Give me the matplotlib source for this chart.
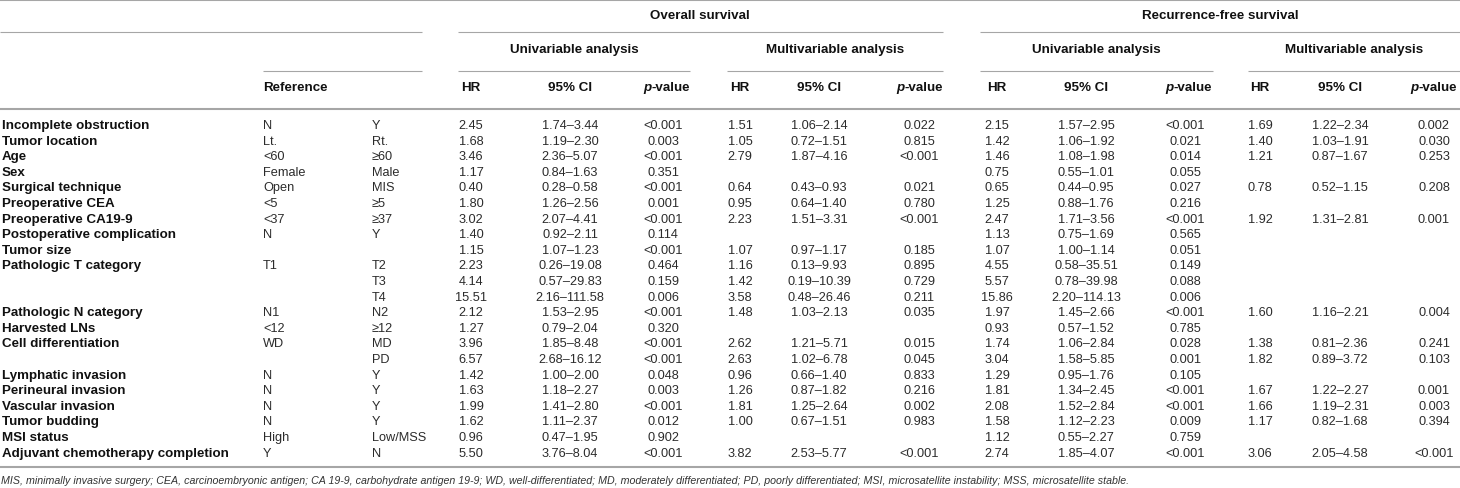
import matplotlib
matplotlib.use("Agg")
import matplotlib.pyplot as plt

# table rows
variables = ["Incomplete obstruction", "Tumor location", "Age", "Sex", "Surgical technique",
             "Preoperative CEA", "Preoperative CA19-9", "Postoperative complication", "Tumor size",
             "Pathologic T category", "", "", "Pathologic N category", "Harvested LNs",
             "Cell differentiation", "", "Lymphatic invasion", "Perineural invasion",
             "Vascular invasion", "Tumor budding", "MSI status", "Adjuvant chemotherapy completion"]
ref_level = ["N", "Lt.", "<60", "Female", "Open", "<5", "<37", "N", "", "T1", "", "", "N1", "<12",
             "WD", "", "N", "N", "N", "N", "High", "Y"]
cmp_level = ["Y", "Rt.", "≥60", "Male", "MIS", "≥5", "≥37", "Y", "", "T2", "T3", "T4", "N2", "≥12",
             "MD", "PD", "Y", "Y", "Y", "Y", "Low/MSS", "N"]

# overall survival, univariable
os_uni_hr = [2.45, 1.68, 3.46, 1.17, 0.40, 1.80, 3.02, 1.40, 1.15, 2.23, 4.14, 15.51, 2.12, 1.27,
             3.96, 6.57, 1.42, 1.63, 1.99, 1.62, 0.96, 5.50]
os_uni_lo = [1.74, 1.19, 2.36, 0.84, 0.28, 1.26, 2.07, 0.92, 1.07, 0.26, 0.57, 2.16, 1.53, 0.79,
             1.85, 2.68, 1.00, 1.18, 1.41, 1.11, 0.47, 3.76]
os_uni_hi = [3.44, 2.30, 5.07, 1.63, 0.58, 2.56, 4.41, 2.11, 1.23, 19.08, 29.83, 111.58, 2.95, 2.04,
             8.48, 16.12, 2.00, 2.27, 2.80, 2.37, 1.95, 8.04]
os_uni_p = ["<0.001", "0.003", "<0.001", "0.351", "<0.001", "0.001", "<0.001", "0.114", "<0.001",
            "0.464", "0.159", "0.006", "<0.001", "0.320", "<0.001", "<0.001", "0.048", "0.003",
            "<0.001", "0.012", "0.902", "<0.001"]

# overall survival, multivariable
os_mul_hr = [1.51, 1.05, 2.79, None, 0.64, 0.95, 2.23, None, 1.07, 1.16, 1.42, 3.58, 1.48, None,
             2.62, 2.63, 0.96, 1.26, 1.81, 1.00, None, 3.82]
os_mul_lo = [1.06, 0.72, 1.87, None, 0.43, 0.64, 1.51, None, 0.97, 0.13, 0.19, 0.48, 1.03, None,
             1.21, 1.02, 0.66, 0.87, 1.25, 0.67, None, 2.53]
os_mul_hi = [2.14, 1.51, 4.16, None, 0.93, 1.40, 3.31, None, 1.17, 9.93, 10.39, 26.46, 2.13, None,
             5.71, 6.78, 1.40, 1.82, 2.64, 1.51, None, 5.77]
os_mul_p = ["0.022", "0.815", "<0.001", None, "0.021", "0.780", "<0.001", None, "0.185", "0.895",
            "0.729", "0.211", "0.035", None, "0.015", "0.045", "0.833", "0.216", "0.002", "0.983",
            None, "<0.001"]

# recurrence-free survival, univariable
rfs_uni_hr = [2.15, 1.42, 1.46, 0.75, 0.65, 1.25, 2.47, 1.13, 1.07, 4.55, 5.57, 15.86, 1.97, 0.93,
              1.74, 3.04, 1.29, 1.81, 2.08, 1.58, 1.12, 2.74]
rfs_uni_lo = [1.57, 1.06, 1.08, 0.55, 0.44, 0.88, 1.71, 0.75, 1.00, 0.58, 0.78, 2.20, 1.45, 0.57,
              1.06, 1.58, 0.95, 1.34, 1.52, 1.12, 0.55, 1.85]
rfs_uni_hi = [2.95, 1.92, 1.98, 1.01, 0.95, 1.76, 3.56, 1.69, 1.14, 35.51, 39.98, 114.13, 2.66, 1.52,
              2.84, 5.85, 1.76, 2.45, 2.84, 2.23, 2.27, 4.07]
rfs_uni_p = ["<0.001", "0.021", "0.014", "0.055", "0.027", "0.216", "<0.001", "0.565", "0.051",
             "0.149", "0.088", "0.006", "<0.001", "0.785", "0.028", "0.001", "0.105", "<0.001",
             "<0.001", "0.009", "0.759", "<0.001"]

# recurrence-free survival, multivariable
rfs_mul_hr = [1.69, 1.40, 1.21, None, 0.78, None, 1.92, None, None, None, None, None, 1.60, None,
              1.38, 1.82, None, 1.67, 1.66, 1.17, None, 3.06]
rfs_mul_lo = [1.22, 1.03, 0.87, None, 0.52, None, 1.31, None, None, None, None, None, 1.16, None,
              0.81, 0.89, None, 1.22, 1.19, 0.82, None, 2.05]
rfs_mul_hi = [2.34, 1.91, 1.67, None, 1.15, None, 2.81, None, None, None, None, None, 2.21, None,
              2.36, 3.72, None, 2.27, 2.31, 1.68, None, 4.58]
rfs_mul_p = ["0.002", "0.030", "0.253", None, "0.208", None, "0.001", None, None, None, None, None,
             "0.004", None, "0.241", "0.103", None, "0.001", "0.003", "0.394", None, "<0.001"]

footnote = ("MIS, minimally invasive surgery; CEA, carcinoembryonic antigen; CA 19-9, carbohydrate "
            "antigen 19-9; WD, well-differentiated; MD, moderately differentiated; PD, poorly "
            "differentiated; MSI, microsatellite instability; MSS, microsatellite stable.")

plt.rcParams['font.family'] = ['Liberation Sans', 'DejaVu Sans']

fig = plt.figure(figsize=(14.6, 4.89), dpi=100)
ax = fig.add_axes([0, 0, 1, 1])
ax.set_xlim(0, 1460)
ax.set_ylim(489, 0)
ax.axis('off')
renderer = fig.canvas.get_renderer()

BOLD = 9.6
REG = 9.2
dark = '#111111'
grey_txt = '#2b2b2b'
line_c = '#a6a6a6'

# horizontal rules (pixel coords)
def rule(y, x0, x1, lw=0.8):
    ax.plot([x0, x1], [y, y], color=line_c, lw=lw, solid_capstyle='butt')

rule(1, 0, 1460, 1.5)
for x0, x1 in [(0, 422), (458, 943), (980, 1460)]:
    rule(33, x0, x1)
for x0, x1 in [(263, 422), (458, 690), (727, 943), (980, 1213), (1248, 1460)]:
    rule(72, x0, x1)
rule(110, 0, 1460, 1.5)
rule(468, 0, 1460, 1.5)

# group headers
ax.text(700, 16, "Overall survival", ha='center', va='center', fontsize=BOLD, weight='bold', color=dark)
ax.text(1220, 16, "Recurrence-free survival", ha='center', va='center', fontsize=BOLD, weight='bold', color=dark)
for xc, lab in [(574, "Univariable analysis"), (835, "Multivariable analysis"),
                (1096, "Univariable analysis"), (1354, "Multivariable analysis")]:
    ax.text(xc, 50, lab, ha='center', va='center', fontsize=BOLD, weight='bold', color=dark)

ax.text(263, 88, "Reference", ha='left', va='center', fontsize=BOLD, weight='bold', color=dark)

# column positions: (hr, ci, p centre, p header right edge)
blocks = [
    (471, 570, 663, 690, os_uni_hr, os_uni_lo, os_uni_hi, os_uni_p),
    (740, 819, 919, 943, os_mul_hr, os_mul_lo, os_mul_hi, os_mul_p),
    (997, 1086, 1185, 1212, rfs_uni_hr, rfs_uni_lo, rfs_uni_hi, rfs_uni_p),
    (1260, 1340, 1434, 1457, rfs_mul_hr, rfs_mul_lo, rfs_mul_hi, rfs_mul_p),
]

inv = ax.transData.inverted()
for hr_x, ci_x, p_x, p_right, hr, lo, hi, pv in blocks:
    ax.text(hr_x, 88, "HR", ha='center', va='center', fontsize=BOLD, weight='bold', color=dark)
    ax.text(ci_x, 88, "95% CI", ha='center', va='center', fontsize=BOLD, weight='bold', color=dark)
    t = ax.text(p_right, 88, "-value", ha='right', va='center', fontsize=BOLD, weight='bold', color=dark)
    bb = t.get_window_extent(renderer)
    x_left = inv.transform((bb.x0, bb.y0))[0]
    ax.text(x_left, 88, "p", ha='right', va='center', fontsize=BOLD, weight='bold',
            style='italic', color=dark)

y0 = 126
dy = 15.6
for i in range(len(variables)):
    y = y0 + i * dy
    ax.text(2, y, variables[i], ha='left', va='center', fontsize=BOLD, weight='bold', color=dark)
    ax.text(263, y, ref_level[i], ha='left', va='center', fontsize=REG, color=grey_txt)
    ax.text(372, y, cmp_level[i], ha='left', va='center', fontsize=REG, color=grey_txt)
    for hr_x, ci_x, p_x, p_right, hr, lo, hi, pv in blocks:
        if hr[i] is None:
            continue
        ax.text(hr_x, y, f"{hr[i]:.2f}", ha='center', va='center', fontsize=REG, color=grey_txt)
        ax.text(ci_x, y, f"{lo[i]:.2f}\u2013{hi[i]:.2f}", ha='center', va='center', fontsize=REG, color=grey_txt)
        ax.text(p_x, y, pv[i], ha='center', va='center', fontsize=REG, color=grey_txt)

# footnote, sized to reach about x=1138
fn = ax.text(1, 481, footnote, ha='left', va='center', fontsize=8, style='italic', color='#333333')
w = fn.get_window_extent(renderer).width
fn.set_fontsize(8 * 1137 / w)

fig.savefig("out.png", dpi=100)
